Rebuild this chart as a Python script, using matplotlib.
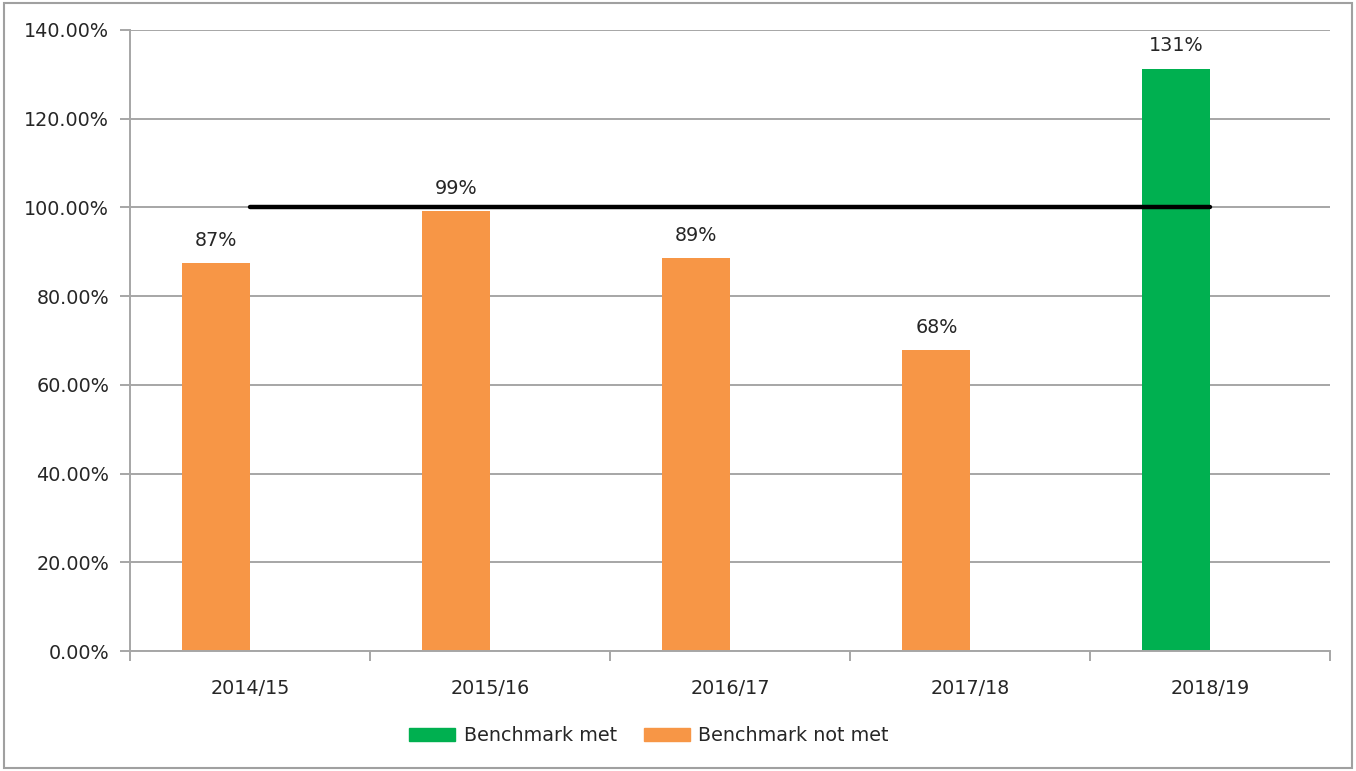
import matplotlib.pyplot as plt
from matplotlib.patches import Patch, Rectangle
from matplotlib.ticker import FuncFormatter

# Datos
years = ["2014/15", "2015/16", "2016/17", "2017/18", "2018/19"]
results = [87.4, 99.2, 88.6, 67.8, 131.3]
benchmark_met = [False, False, False, False, True]
benchmark = 100

GREEN = "#00B050"
ORANGE = "#F79646"
GRID = "#a6a6a6"
TEXT = "#262626"
FS = 13.8

plt.rcParams["font.family"] = ["DejaVu Sans"]

fig = plt.figure(figsize=(13.56, 7.71), dpi=100)
ax = fig.add_axes([0.0959, 0.1556, 0.9808 - 0.0959, 0.9611 - 0.1556])

x = list(range(len(years)))
colores = [GREEN if met else ORANGE for met in benchmark_met]
offset = -0.14
bars = ax.bar([i + offset for i in x], results, width=0.283, color=colores, zorder=2)

for bar, val in zip(bars, results):
    ax.text(bar.get_x() + bar.get_width() / 2, val + 3.0, f"{val:.0f}%",
            ha="center", va="bottom", fontsize=FS, color=TEXT)

# Linea de referencia
ax.plot([x[0], x[-1]], [benchmark, benchmark], color="black", linewidth=3.2,
        solid_capstyle="round", zorder=3)

ax.set_xlim(-0.5, len(years) - 0.5)
ax.set_ylim(0, 140)
ax.set_yticks(range(0, 141, 20))
ax.yaxis.set_major_formatter(FuncFormatter(lambda v, _: f"{v:.2f}%"))
ax.grid(axis="y", color=GRID, linewidth=1.4, zorder=0)

ax.set_xticks(x)
ax.set_xticklabels(years)
ax.set_xticks([i - 0.5 for i in range(len(years) + 1)], minor=True)
ax.tick_params(axis="x", which="major", length=0, pad=20, labelsize=FS, labelcolor=TEXT)
ax.tick_params(axis="x", which="minor", length=7, width=1.4, color=GRID, direction="out")
ax.tick_params(axis="y", length=7, width=1.4, color=GRID, pad=8, labelsize=FS, labelcolor=TEXT)

for side in ["top", "right"]:
    ax.spines[side].set_visible(False)
for side in ["left", "bottom"]:
    ax.spines[side].set_color(GRID)
    ax.spines[side].set_linewidth(1.4)

handles = [Patch(color=GREEN, label="Benchmark met"),
           Patch(color=ORANGE, label="Benchmark not met")]
fig.legend(handles=handles, loc="center", bbox_to_anchor=(0.4786, 0.0454), ncol=2,
           frameon=False, fontsize=FS, handlelength=2.4, handleheight=0.7,
           columnspacing=1.4, handletextpad=0.45, labelcolor=TEXT)

# Borde exterior
fig.patches.append(Rectangle((0.003, 0.004), 0.994, 0.992, transform=fig.transFigure,
                             fill=False, edgecolor="#a0a0a0", linewidth=1.5))

fig.savefig("out.png", dpi=100)
